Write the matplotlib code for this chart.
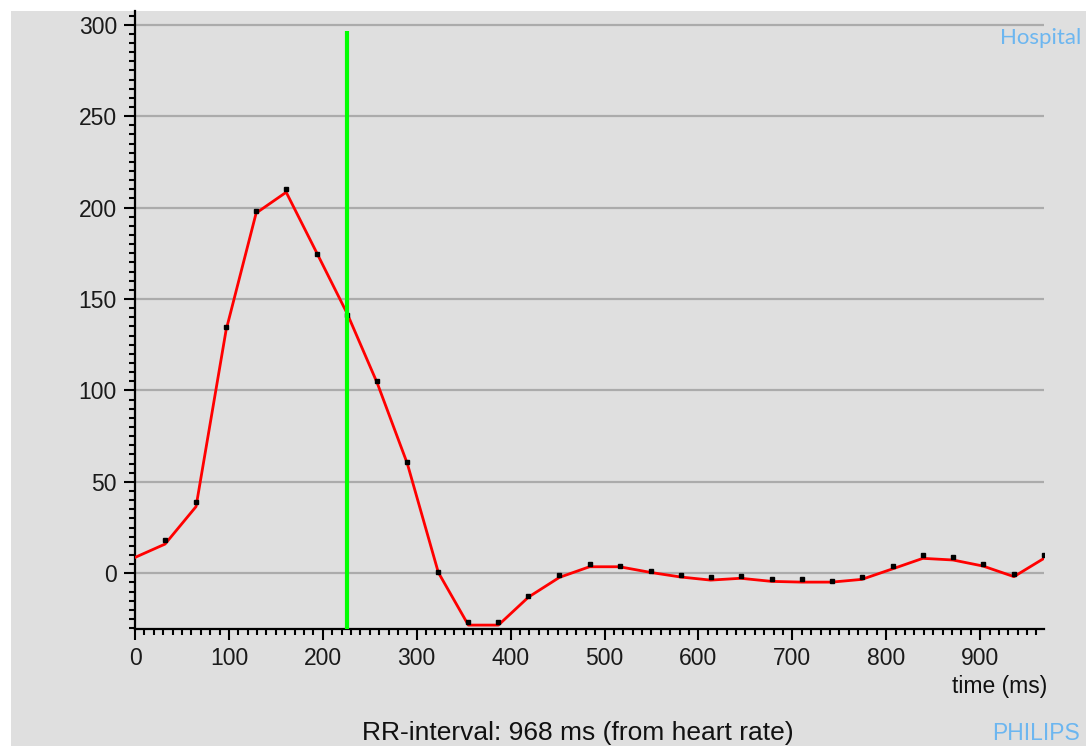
import matplotlib
matplotlib.use("Agg")
import matplotlib.pyplot as plt
from matplotlib.patches import Rectangle
from matplotlib.ticker import MultipleLocator

# sample times (ms)
times = [32, 65, 97, 129, 161, 194, 226, 258, 290, 323, 355, 387, 419, 452, 484,
         516, 549, 581, 613, 645, 678, 710, 742, 774, 807, 839, 871, 903, 936, 968]
# measured points (black dots)
dot_vals = [18.2, 39.2, 134.9, 198.4, 210, 174.8, 141, 105.2, 60.9, 0.5, -26.5, -26.5,
            -12.6, -0.8, 5.1, 4.2, 1.4, -0.8, -1.8, -1.5, -3.1, -3.3, -4.0, -1.8,
            4.0, 9.8, 8.9, 5.3, -0.5, 10.0]
# curve (red line), starts at t=0
curve_t = [0] + times
curve_vals = [8.7, 16, 36.5, 133, 197, 208.4, 174.8, 142, 104, 60, 0.5, -28.3, -28.3,
              -13, -2.2, 3.6, 3.6, 0.5, -2, -3.7, -2.7, -4.4, -4.8, -4.8, -3.3,
              2.5, 8.2, 7.3, 4, -1.8, 8.2]
marker_time = 226
marker_top = 296.5
y_ticks = [0, 50, 100, 150, 200, 250, 300]
x_ticks = [0, 100, 200, 300, 400, 500, 600, 700, 800, 900]

W, H = 1086, 746
fig = plt.figure(figsize=(W / 100, H / 100), dpi=100, facecolor="white")
bg = "#dfdfdf"
fig.patches.append(Rectangle((11 / W, 0), 1 - 11 / W, 1 - 11 / H,
                             transform=fig.transFigure, facecolor=bg,
                             edgecolor="none", zorder=-10))

ax = fig.add_axes([135 / W, (H - 629.3) / H, (1044 - 135) / W, (629.3 - 11) / H])
ax.set_facecolor(bg)
ax.patch.set_alpha(0)
ax.set_xlim(0, 968)
ax.set_ylim(-30.6, 307.5)

for s in ["top", "right"]:
    ax.spines[s].set_visible(False)
for s in ["left", "bottom"]:
    ax.spines[s].set_linewidth(1.6)
    ax.spines[s].set_color("black")

ax.set_yticks(y_ticks)
ax.set_xticks(x_ticks)
ax.yaxis.set_minor_locator(MultipleLocator(5))
ax.xaxis.set_minor_locator(MultipleLocator(10))
ax.tick_params(which="major", length=8, width=1.5, direction="out", colors="black",
               labelsize=16.5, pad=5, labelcolor="#1a1a1a")
ax.tick_params(which="minor", length=4.5, width=1.5, direction="out", colors="black")
for lab in ax.get_xticklabels() + ax.get_yticklabels():
    lab.set_fontfamily("Liberation Sans")

ax.grid(axis="y", which="major", color="#ababab", linewidth=1.6)
ax.set_axisbelow(True)

ax.plot(curve_t, curve_vals, color="#ff0000", linewidth=2, zorder=3)
ax.plot(times, dot_vals, linestyle="none", marker="s", markersize=3.5,
        color="black", zorder=4)
ax.vlines(marker_time, -30.6, marker_top, color="#00ff00", linewidth=3, zorder=5)

fig.text(1047 / W, (H - 686) / H, "time (ms)", ha="right", va="center",
         fontsize=16.5, family="Liberation Sans", color="#111111")
fig.text(578 / W, 6 / H, "RR-interval: 968 ms (from heart rate)", ha="center",
         va="baseline", fontsize=19, family="Liberation Sans", color="#111111")
fig.text(1081 / W, (H - 38) / H, "Hospital", ha="right", va="center",
         fontsize=16, family="Lato", color="#6cb6f0")
fig.text(1080 / W, (H - 733) / H, "PHILIPS", ha="right", va="center",
         fontsize=16.5, family="Liberation Sans", color="#6cb6f0")

fig.savefig("out.png", dpi=100, facecolor="white")
